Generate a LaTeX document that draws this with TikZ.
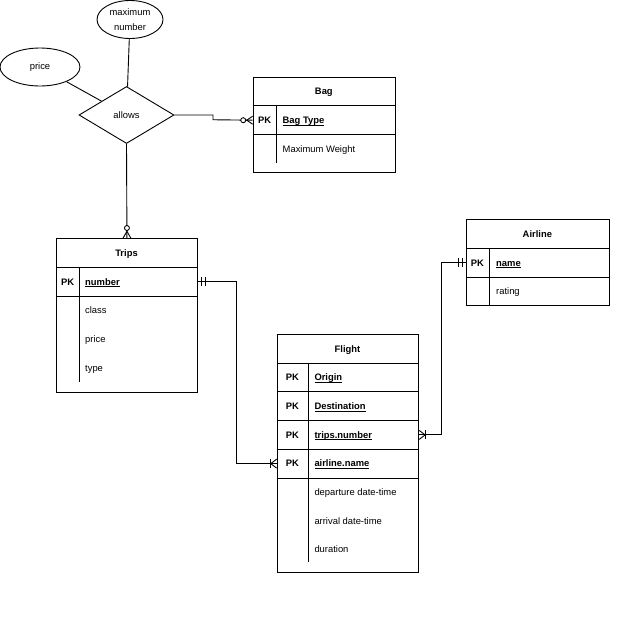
\documentclass[tikz,border=0pt]{standalone}
\usepackage{amsmath}
\usepackage{fontspec}
\setmainfont{Liberation Sans}
\usetikzlibrary{shapes.geometric}
\newcommand{\kul}[1]{\underline{\smash[b]{#1}}}
\tikzset{
  ln/.style={line width=0.9pt, draw=black},
  ent/.style={draw=black, line width=0.9pt, rectangle, inner sep=0pt, anchor=north west},
  txt/.style={inner sep=0pt, font=\fontsize{9.4}{11}\selectfont, text height=7pt, text depth=2pt, yshift=-1.2pt},
  hdr/.style={txt, font=\fontsize{9.4}{11}\selectfont\bfseries},
  attr/.style={txt, anchor=west},
  keyt/.style={hdr, anchor=west},
  ell/.style={ellipse, draw=black, line width=0.9pt, inner sep=0pt, align=center,
    font=\fontsize{9.4}{15}\selectfont},
  rel/.style={diamond, draw=black, line width=0.9pt, inner sep=0pt,
    font=\fontsize{9.4}{11}\selectfont},
  zmanyL/.pic={\draw[ln] (0,-4) -- (-6,0) -- (0,4);
    \draw[ln, fill=white] (-9.5,0) circle[radius=2.5pt];},
  zmanyT/.pic={\draw[ln] (-4,0) -- (0,-7) -- (4,0);
    \draw[ln, fill=white] (0,-10.3) circle[radius=2.5pt];},
  mandoneR/.pic={\draw[ln] (3.5,-4.5) -- (3.5,4.5) (7.3,-4.5) -- (7.3,4.5);},
  mandoneL/.pic={\draw[ln] (-3.3,-4.5) -- (-3.3,4.5) (-6.8,-4.5) -- (-6.8,4.5);},
  onemanyL/.pic={\draw[ln] (0,-4.5) -- (-6,0) -- (0,4.5); \draw[ln] (-6.5,-4.5) -- (-6.5,4.5);},
  onemanyR/.pic={\draw[ln] (0,-4.5) -- (6,0) -- (0,4.5); \draw[ln] (6.5,-4.5) -- (6.5,4.5);}
}
\begin{document}
\begin{tikzpicture}[x=1pt,y=-1pt]
\useasboundingbox[fill=white] (0,0) rectangle (640,640);

% attributes and relationship
\node[ell, minimum width=66pt, minimum height=38pt] (maxnum) at (130,19.5) {maximum\\number};
\node[ell, minimum width=80pt, minimum height=38pt] (price) at (40,67) {price};
\node[rel, minimum width=95pt, minimum height=57pt] (allows) at (126.5,115) {allows};

% Bag
\node[ent, minimum width=142.3pt, minimum height=95.3pt] (bag) at (252.7,76.7) {};
\node[ent, minimum width=142.3pt, minimum height=28.7pt] (bagpk) at (252.7,105.4) {};
\draw[ln] (276.7,105.4) -- (276.7,162.8);
\node[hdr] (baghdr) at (323.85,91) {Bag};
\node[hdr] (bagpkl) at (264.7,119.7) {PK};
\node[keyt] (bagkey) at (282.5,119.7) {\kul{Bag Type}};
\node[attr] (bagw) at (282.5,148.5) {Maximum Weight};

% Trips
\node[ent, minimum width=141pt, minimum height=153.4pt] (trips) at (56,238.3) {};
\node[ent, minimum width=141pt, minimum height=28.7pt] (tripspk) at (56,267) {};
\draw[ln] (79.3,267) -- (79.3,381.7);
\node[hdr] (tripshdr) at (126.5,252.6) {Trips};
\node[hdr] (tripspkl) at (67.6,281.4) {PK};
\node[keyt] (tripskey) at (85,281.4) {\kul{number}};
\node[attr] (tripsc) at (85,310.1) {class};
\node[attr] (tripsp) at (85,338.8) {price};
\node[attr] (tripst) at (85,367.5) {type};

% Airline
\node[ent, minimum width=143.3pt, minimum height=86.1pt] (airline) at (465.7,219.3) {};
\node[ent, minimum width=143.3pt, minimum height=28.7pt] (airpk) at (465.7,248) {};
\draw[ln] (489.3,248) -- (489.3,305.4);
\node[hdr] (airhdr) at (537.35,233.6) {Airline};
\node[hdr] (airpkl) at (477.5,262.3) {PK};
\node[keyt] (airkey) at (496,262.3) {\kul{name}};
\node[attr] (airr) at (496,291) {rating};

% Flight
\node[ent, minimum width=141.6pt, minimum height=237.7pt] (flight) at (276.7,334) {};
\node[ent, minimum width=141.6pt, minimum height=28.7pt] (forig) at (276.7,362.7) {};
\node[ent, minimum width=141.6pt, minimum height=28.7pt] (fdest) at (276.7,391.4) {};
\node[ent, minimum width=141.6pt, minimum height=28.7pt] (ftrips) at (276.7,420.1) {};
\node[ent, minimum width=141.6pt, minimum height=28.7pt] (fair) at (276.7,448.8) {};
\draw[ln] (308.3,362.7) -- (308.3,562);
\node[hdr] (flhdr) at (347.5,348.3) {Flight};
\node[hdr] (fpk1) at (292.5,377) {PK};
\node[hdr] (fpk2) at (292.5,405.7) {PK};
\node[hdr] (fpk3) at (292.5,434.4) {PK};
\node[hdr] (fpk4) at (292.5,463.1) {PK};
\node[keyt] (fk1) at (314.3,377) {\kul{Origin}};
\node[keyt] (fk2) at (314.3,405.7) {\kul{Destination}};
\node[keyt] (fk3) at (314.3,434.4) {\kul{trips.number}};
\node[keyt] (fk4) at (314.3,463.1) {\kul{airline.name}};
\node[attr] (fa1) at (314.3,491.8) {departure date-time};
\node[attr] (fa2) at (314.3,520.5) {arrival date-time};
\node[attr] (fa3) at (314.3,549.2) {duration};

% connectors
\coordinate (bend1) at (213,119.75);
\coordinate (bend2) at (236.7,0);
\coordinate (bend3) at (441.7,0);
\draw[ln] (maxnum) -- (allows);
\draw[ln] (price) -- (allows);
\draw[ln] (allows.east) -| (bend1) -- (bagpk.west);
\draw[ln] (allows.south) -- (trips.north);
\draw[ln] (tripspk.east) -| (bend2 |- fair.west) -- (fair.west);
\draw[ln] (ftrips.east) -| (bend3 |- airpk.west) -- (airpk.west);

% markers
\pic at (bagpk.west) {zmanyL};
\pic at (trips.north) {zmanyT};
\pic at (tripspk.east) {mandoneR};
\pic at (fair.west) {onemanyL};
\pic at (ftrips.east) {onemanyR};
\pic at (airpk.west) {mandoneL};
\end{tikzpicture}
\end{document}
